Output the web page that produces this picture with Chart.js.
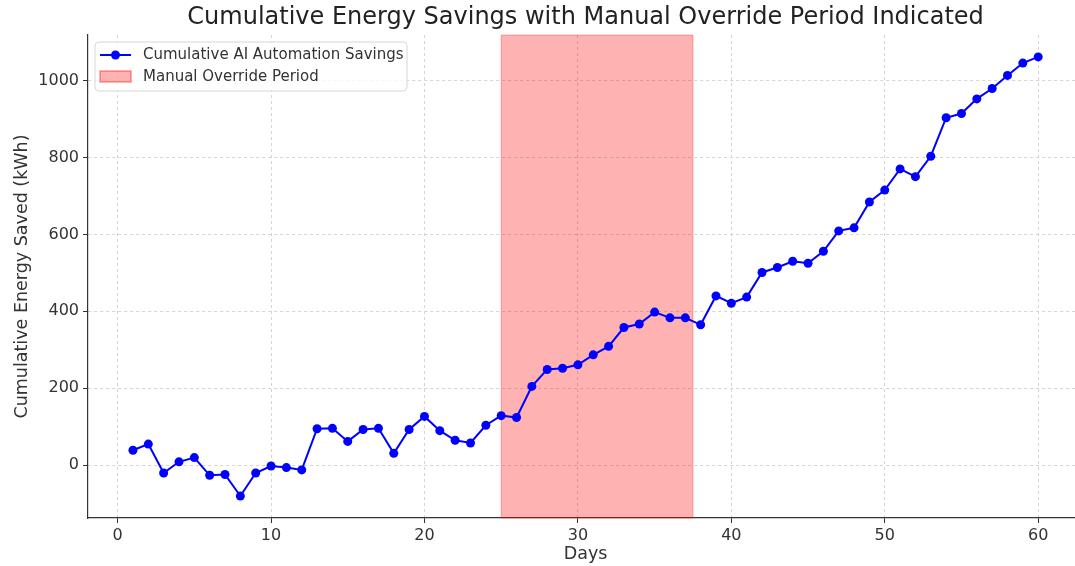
<!DOCTYPE html>
<html>
<head>
<meta charset="utf-8">
<script src="https://cdn.jsdelivr.net/npm/chart.js@4/dist/chart.umd.min.js"></script>
<style>
html,body{margin:0;padding:0;background:#fff;}
#c{display:block;}
</style>
</head>
<body>
<canvas id="c" width="1075" height="566"></canvas>
<script>
const days = Array.from({length: 60}, (_, i) => i + 1);
const savings = [39, 55, -20, 9, 20, -26, -24, -80, -20, -2,
  -6, -12, 95, 96, 62, 93, 96, 31, 93, 127,
  90, 65, 58, 104, 129, 124, 205, 249, 252, 261,
  287, 309, 358, 367, 398, 383, 383, 365, 440, 421,
  437, 501, 514, 530, 525, 556, 609, 617, 684, 715,
  770, 750, 803, 903, 914, 952, 979, 1013, 1045, 1061];
const overridePeriod = [25, 37.5];
const xTicks = [0, 10, 20, 30, 40, 50, 60];
const yTicks = [0, 200, 400, 600, 800, 1000];
const titleText = 'Cumulative Energy Savings with Manual Override Period Indicated';
const seriesLabel = 'Cumulative AI Automation Savings';
const bandLabel = 'Manual Override Period';
const xLabel = 'Days';
const yLabel = 'Cumulative Energy Saved (kWh)';

const FONT = '"DejaVu Sans", sans-serif';

const bandPlugin = {
  id: 'band',
  beforeDatasetsDraw(chart) {
    const {ctx, chartArea, scales} = chart;
    const x0 = scales.x.getPixelForValue(overridePeriod[0]);
    const x1 = scales.x.getPixelForValue(overridePeriod[1]);
    ctx.save();
    ctx.fillStyle = 'rgba(255,0,0,0.3)';
    ctx.fillRect(x0, chartArea.top, x1 - x0, chartArea.bottom - chartArea.top);
    ctx.strokeStyle = 'rgba(255,0,0,0.3)';
    ctx.lineWidth = 1;
    ctx.strokeRect(x0, chartArea.top, x1 - x0, chartArea.bottom - chartArea.top);
    ctx.restore();
  }
};

const decorPlugin = {
  id: 'decor',
  afterDraw(chart) {
    const {ctx, scales} = chart;
    const cx = scales.x.getPixelForValue(30.5);
    ctx.save();
    // title
    ctx.fillStyle = '#222';
    ctx.font = '24px ' + FONT;
    ctx.textAlign = 'center';
    ctx.textBaseline = 'middle';
    ctx.fillText(titleText, cx, 18);
    // x axis label
    ctx.fillStyle = '#333';
    ctx.font = '17.5px ' + FONT;
    ctx.fillText(xLabel, cx, 554);
    // legend
    const bx = 95, by = 42, bw = 312, bh = 49, r = 4;
    ctx.beginPath();
    ctx.moveTo(bx + r, by);
    ctx.arcTo(bx + bw, by, bx + bw, by + bh, r);
    ctx.arcTo(bx + bw, by + bh, bx, by + bh, r);
    ctx.arcTo(bx, by + bh, bx, by, r);
    ctx.arcTo(bx, by, bx + bw, by, r);
    ctx.closePath();
    ctx.fillStyle = 'rgba(255,255,255,0.8)';
    ctx.fill();
    ctx.strokeStyle = '#d6d6d6';
    ctx.lineWidth = 1;
    ctx.stroke();
    // line handle
    ctx.strokeStyle = '#0000ff';
    ctx.lineWidth = 2;
    ctx.beginPath();
    ctx.moveTo(100, 55);
    ctx.lineTo(131, 55);
    ctx.stroke();
    ctx.fillStyle = '#0000ff';
    ctx.beginPath();
    ctx.arc(115.5, 55, 4.5, 0, Math.PI * 2);
    ctx.fill();
    // patch
    ctx.fillStyle = 'rgba(255,0,0,0.3)';
    ctx.fillRect(100, 71, 31, 11);
    ctx.strokeStyle = 'rgba(255,0,0,0.3)';
    ctx.strokeRect(100, 71, 31, 11);
    // texts
    ctx.fillStyle = '#333';
    ctx.font = '15px ' + FONT;
    ctx.textAlign = 'left';
    ctx.textBaseline = 'middle';
    ctx.fillText(seriesLabel, 143, 55);
    ctx.fillText(bandLabel, 143, 77);
    ctx.restore();
  }
};

new Chart(document.getElementById('c'), {
  type: 'line',
  data: {
    datasets: [{
      label: seriesLabel,
      data: days.map((d, i) => ({x: d, y: savings[i]})),
      borderColor: '#0000ff',
      backgroundColor: '#0000ff',
      borderWidth: 2,
      pointRadius: 4.5,
      pointHoverRadius: 4.5,
      pointBorderWidth: 0,
      tension: 0,
      fill: false,
      clip: false
    }]
  },
  options: {
    responsive: false,
    maintainAspectRatio: false,
    animation: false,
    events: [],
    layout: {autoPadding: false, padding: {top: 35, right: 0, bottom: 0, left: 0}},
    plugins: {legend: {display: false}, title: {display: false}, tooltip: {enabled: false}},
    scales: {
      x: {
        type: 'linear',
        min: -1.93,
        max: 62.4,
        afterBuildTicks: s => { s.ticks = xTicks.map(v => ({value: v})); },
        afterFit: s => { s.height = 48; s.paddingLeft = 0; s.paddingRight = 0; },
        ticks: {font: {family: FONT, size: 16}, color: '#333', padding: 3, maxRotation: 0, autoSkip: false, callback: v => String(v)},
        grid: {color: '#d4d4d4', lineWidth: 1, drawTicks: true, tickLength: 5, tickColor: '#333', tickBorderDash: [], tickWidth: 1},
        border: {display: true, color: '#333', width: 1.2, dash: [3, 3]},
        title: {display: false}
      },
      y: {
        type: 'linear',
        min: -137,
        max: 1118,
        afterBuildTicks: s => { s.ticks = yTicks.map(v => ({value: v})); },
        afterFit: s => { s.width = 88; s.paddingTop = 0; s.paddingBottom = 0; },
        ticks: {font: {family: FONT, size: 16}, color: '#333', padding: 4, callback: v => String(v)},
        grid: {color: '#d4d4d4', lineWidth: 1, drawTicks: true, tickLength: 5, tickColor: '#333', tickBorderDash: [], tickWidth: 1},
        border: {display: true, color: '#333', width: 1.2, dash: [3, 3]},
        title: {display: true, text: yLabel, font: {family: FONT, size: 17.5}, color: '#333', padding: {top: 11.5, bottom: 0}}
      }
    }
  },
  plugins: [bandPlugin, decorPlugin]
});
</script>
</body>
</html>
